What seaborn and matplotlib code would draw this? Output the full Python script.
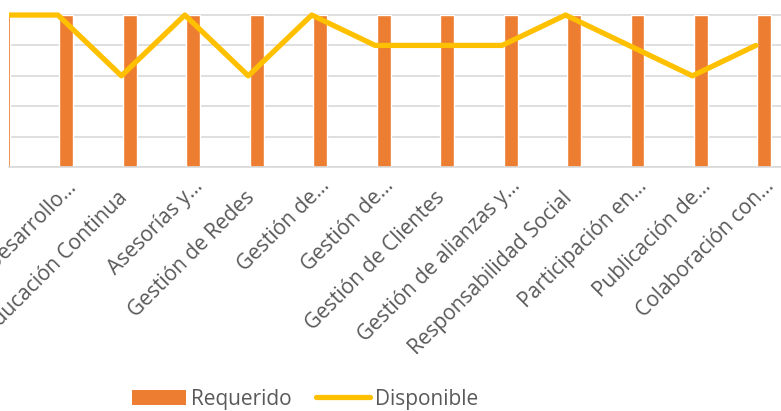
import numpy as np
import pandas as pd
import seaborn as sns
import matplotlib.pyplot as plt
from matplotlib.patches import Patch
from matplotlib.lines import Line2D
from matplotlib.transforms import ScaledTranslation

# --- data ---
categorias = ['Investigación…', 'Desarrollo…', 'Educación Continua', 'Asesorías y…',
              'Gestión de Redes', 'Gestión de…', 'Gestión de…', 'Gestión de Clientes',
              'Gestión de alianzas y…', 'Responsabilidad Social', 'Participación en…',
              'Publicación de…', 'Colaboración con…']
requerido = [5, 5, 5, 5, 5, 5, 5, 5, 5, 5, 5, 5, 5]
disponible = [5, 5, 3, 5, 3, 5, 4, 4, 4, 5, 4, 3, 4]

sns.set_theme(style='white')
plt.rcParams['font.family'] = ['Open Sans', 'DejaVu Sans']

c_bar = '#ED7D31'
c_line = '#FFC000'
c_text = '#595959'
c_grid = '#D9D9D9'

pos = np.arange(len(categorias))
df = pd.DataFrame({'pos': pos, 'cat': categorias,
                   'Requerido': requerido, 'Disponible': disponible})

fig = plt.figure(figsize=(7.81, 4.11), dpi=100)
ax = fig.add_axes([9 / 781, 1 - 167 / 411, 772 / 781, (167 - 12) / 411])

# bars sit a bit right of the category centre, like the Excel original
sns.barplot(data=df.assign(xb=df['pos'] + 0.134), x='xb', y='Requerido',
            native_scale=True, width=0.22, color=c_bar, saturation=1, ax=ax, zorder=2)
sns.lineplot(data=df, x='pos', y='Disponible', color=c_line, linewidth=3.8,
             ax=ax, zorder=3)

ax.set_xticks(pos)
ax.set_xticklabels(categorias, rotation=45, ha='right', va='center',
                   rotation_mode='anchor', fontsize=15, color=c_text)
ax.tick_params(axis='x', length=0, pad=0)
for lbl in ax.get_xticklabels():
    # truncated labels carry a wider ellipsis in the original
    if lbl.get_text().endswith('…'):
        off = ScaledTranslation(15 / 100, -16 / 100, fig.dpi_scale_trans)
    else:
        off = ScaledTranslation(3 / 100, -28 / 100, fig.dpi_scale_trans)
    lbl.set_transform(lbl.get_transform() + off)

# the original picture is cropped on the left, so the first category is cut off
ax.set_xlim(0.2285, 12.396)
ax.set_ylim(0, 5.1)
ax.set_yticks(range(0, 6))
ax.set_yticklabels([])
ax.tick_params(axis='y', length=0)
ax.yaxis.grid(True, color=c_grid, linewidth=1.2, zorder=0)
ax.set_axisbelow(True)
for s in ['top', 'left', 'right']:
    ax.spines[s].set_visible(False)
ax.spines['bottom'].set_color(c_grid)
ax.spines['bottom'].set_linewidth(1.2)
ax.set_xlabel('')
ax.set_ylabel('')

handles = [Patch(facecolor=c_bar, edgecolor='none'),
           Line2D([0], [0], color=c_line, linewidth=3.8)]
fig.legend(handles, ['Requerido', 'Disponible'], loc='center',
           bbox_to_anchor=(305 / 781, 1 - 399 / 411), ncol=2, frameon=False,
           fontsize=15, labelcolor=c_text, handlelength=2.6, handleheight=0.7,
           handletextpad=0.2, columnspacing=1.2)

fig.savefig('out.png', dpi=100)
